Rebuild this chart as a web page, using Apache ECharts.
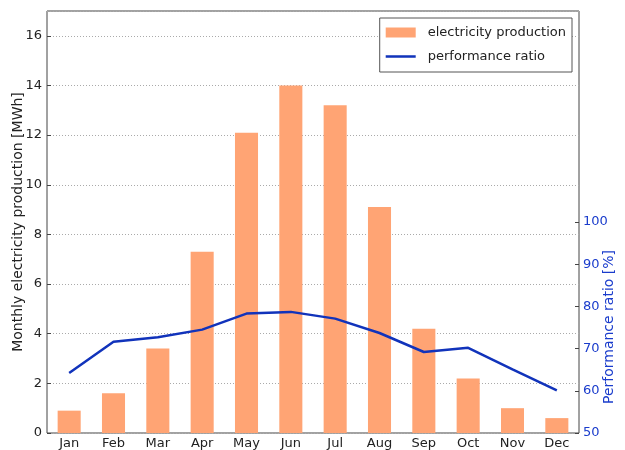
<!DOCTYPE html>
<html>
<head>
<meta charset="utf-8">
<script src="https://cdn.jsdelivr.net/npm/echarts@6/dist/echarts.min.js"></script>
<style>
  html, body { margin: 0; padding: 0; background: #fff; }
  #chart { width: 625px; height: 450px; }
</style>
</head>
<body>
<div id="chart"></div>
<script>
const months = ['Jan', 'Feb', 'Mar', 'Apr', 'May', 'Jun', 'Jul', 'Aug', 'Sep', 'Oct', 'Nov', 'Dec'];
const production = [0.9, 1.6, 3.4, 7.3, 12.1, 14.0, 13.2, 9.1, 4.2, 2.2, 1.0, 0.6];
const perfRatio = [64.2, 71.6, 72.7, 74.5, 78.3, 78.7, 77.1, 73.7, 69.2, 70.2, 65.1, 60.1];
const ratioTicks = [50, 60, 70, 80, 90, 100];

const font = 'DejaVu Sans';
const blue = '#1a3ccc';

const chart = echarts.init(document.getElementById('chart'));

const option = {
  animation: false,
  textStyle: { fontFamily: font },
  grid: {
    left: 47, right: 46, top: 11, bottom: 17,
    outerBoundsMode: 'none',
    containLabel: false,
    show: true,
    borderColor: '#444',
    borderWidth: 1,
  },
  legend: {
    right: 53,
    top: 18,
    orient: 'vertical',
    backgroundColor: '#fff',
    borderColor: '#555',
    borderWidth: 1,
    borderRadius: 0,
    padding: [8, 6, 9, 6],
    itemWidth: 30,
    itemHeight: 10,
    itemGap: 11,
    textStyle: { fontFamily: font, fontSize: 13, color: '#222', padding: [0, 0, 0, 7] },
    data: [
      { name: 'electricity production', icon: 'rect' },
      { name: 'performance ratio', icon: 'path://M0,0h0.01v10h-0.01z M0,3.8h30v2.4h-30z' },
    ],
  },
  xAxis: [
    {
      type: 'category',
      data: months,
      axisLine: { show: false },
      axisTick: { inside: true, length: 4, alignWithLabel: true, lineStyle: { color: '#444' } },
      axisLabel: { color: '#222', fontSize: 13, margin: 4 },
    },
    {
      type: 'category',
      data: months,
      position: 'top',
      axisLine: { show: false },
      axisTick: { inside: true, length: 4, alignWithLabel: true, lineStyle: { color: '#444' } },
      axisLabel: { show: false },
    },
  ],
  yAxis: [
    {
      type: 'value',
      min: 0,
      max: 17,
      interval: 2,
      name: 'Monthly electricity production [MWh]',
      nameLocation: 'middle',
      nameGap: 22,
      nameMoveOverlap: false,
      nameTextStyle: { fontSize: 14, color: '#222' },
      axisLine: { show: false },
      axisTick: { show: true, inside: true, length: 4, lineStyle: { color: '#444' } },
      axisLabel: { color: '#222', fontSize: 13, margin: 5, showMaxLabel: false },
      splitLine: { lineStyle: { color: '#aaa', type: [1, 2], width: 1 } },
    },
    {
      type: 'value',
      min: 50,
      max: 150,
      interval: 10,
      position: 'right',
      name: 'Performance ratio [%]',
      nameLocation: 'middle',
      nameRotate: 90,
      nameGap: 23,
      nameMoveOverlap: false,
      nameTextStyle: { fontSize: 14, color: blue, padding: [0, 210, 0, 0] },
      axisLine: { show: false },
      axisTick: { show: true, inside: true, length: 4, customValues: ratioTicks, lineStyle: { color: '#444' } },
      axisLabel: { color: blue, fontSize: 13, margin: 4, customValues: ratioTicks },
      splitLine: { show: false },
    },
  ],
  series: [
    {
      name: 'electricity production',
      type: 'bar',
      data: production,
      barWidth: '52%',
      itemStyle: { color: '#ffa474' },
    },
    {
      name: 'performance ratio',
      type: 'line',
      yAxisIndex: 1,
      data: perfRatio,
      symbol: 'none',
      lineStyle: { color: '#1133bb', width: 2.5 },
      itemStyle: { color: '#1133bb' },
    },
  ],
};

chart.setOption(option);
</script>
</body>
</html>
